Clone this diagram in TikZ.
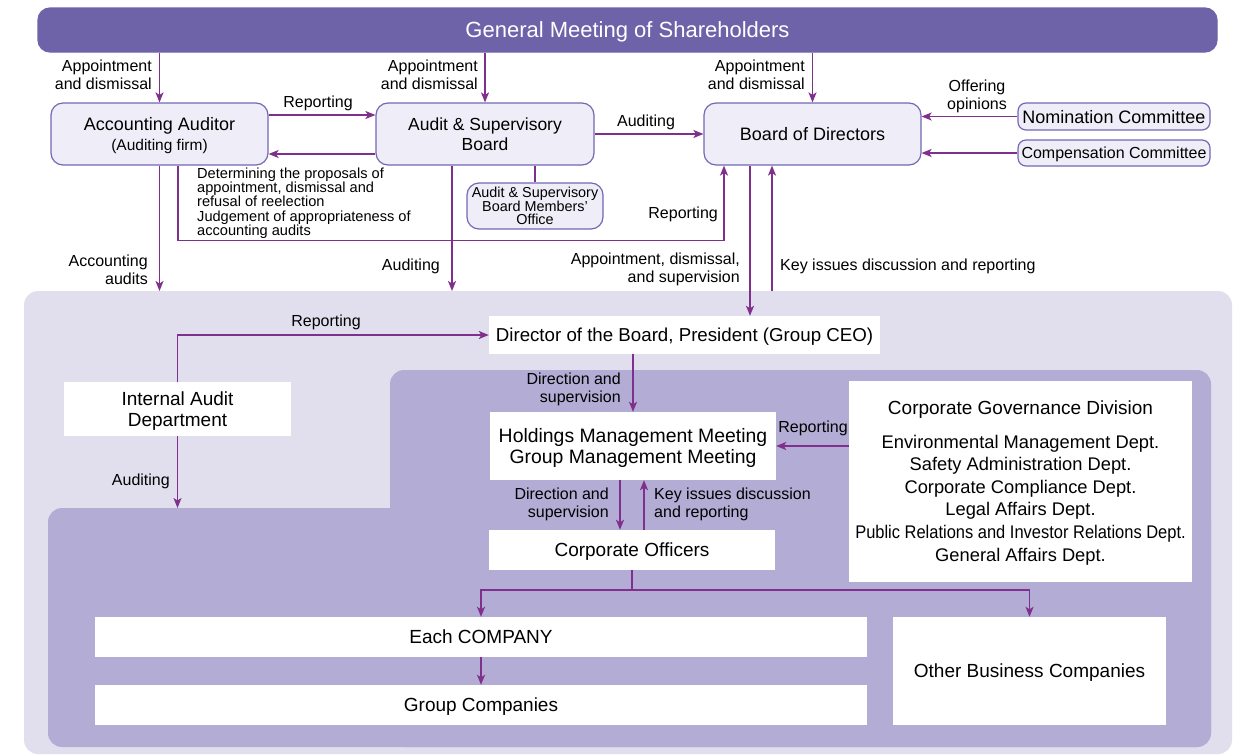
\documentclass[tikz,border=0pt]{standalone}
\usepackage{fontspec}
\setmainfont{Liberation Sans}
\usetikzlibrary{arrows.meta}
\definecolor{meeting}{HTML}{6E62A8}
\definecolor{outer}{HTML}{E1DFEE}
\definecolor{inner}{HTML}{B3ACD4}
\definecolor{orgfill}{HTML}{EFEEF8}
\definecolor{orgline}{HTML}{7467B4}
\definecolor{link}{HTML}{7F2F8C}
\tikzstyle{org}=[rectangle, rounded corners=12pt, draw=orgline, line width=1.2pt, fill=orgfill, align=center, inner sep=0pt, text depth=0pt, font=\fontsize{18}{20}\selectfont]
\tikzstyle{com}=[org, rounded corners=8pt, minimum width=192pt]
\tikzstyle{unit}=[rectangle, fill=white, inner sep=0pt, align=center, text depth=0pt, font=\fontsize{19}{21}\selectfont]
\tikzstyle{lbl}=[inner sep=0pt, font=\fontsize{16}{18}\selectfont]
\tikzstyle{edge}=[draw=link, line width=1.5pt, -{Stealth[length=10pt,width=8pt,inset=2.5pt]}]
\tikzstyle{wedge}=[draw=link, line width=1.5pt]
\begin{document}
\begin{tikzpicture}[x=1pt, y=-1pt]
				\useasboundingbox (0,0) rectangle (1236,755);
				
				%The shaded areas
				\fill[outer, rounded corners=14pt] (24,291) rectangle (1232,754);
				\fill[inner, rounded corners=14pt] (390,370) rectangle (1211,747);
				\fill[inner, rounded corners=14pt] (48,508) rectangle (1211,747);
				\coordinate (rim) at (0,291);
				\coordinate (floor) at (0,508);
				
				%The shareholders
				\draw (627.5,30) node[org, draw=meeting, fill=meeting, text=white, minimum width=1179pt, minimum height=44pt, font=\fontsize{22}{24}\selectfont] (gms) {General Meeting of Shareholders};
				
				%The top organs
				\draw (159.5,134) node[org, minimum width=217pt, minimum height=62pt] (aa) {Accounting Auditor\\{\fontsize{15.5}{18}\selectfont (Auditing firm)}};
				\draw (485,134) node[org, minimum width=218pt, minimum height=62pt, font=\fontsize{17.5}{20}\selectfont] (asb) {Audit \& Supervisory\\Board};
				\draw (812.5,134) node[org, minimum width=217pt, minimum height=62pt] (bod) {Board of Directors};
				\draw (1114,116.5) node[com, minimum height=27pt] (nom) {Nomination Committee};
				\draw (1114,153) node[com, minimum height=26pt, font=\fontsize{16}{19}\selectfont] (comp) {Compensation Committee};
				\draw (535,206) node[org, minimum width=136pt, minimum height=46pt, font=\fontsize{14.4}{13.6}\selectfont] (office) {Audit \& Supervisory\\Board Members'\\Office};
				
				\draw[edge] (aa.north |- gms.south) -- (aa.north);
				\draw[edge] (asb.north |- gms.south) -- (asb.north);
				\draw[edge] (bod.north |- gms.south) -- (bod.north);
				\draw[edge] ([yshift=19pt]aa.east) -- ([yshift=19pt]asb.west);
				\draw[edge] ([yshift=-20pt]asb.west) -- ([yshift=-20pt]aa.east);
				\draw[edge] (asb.east) -- (bod.west);
				\draw[edge] (nom.west) -- (nom.west -| bod.east);
				\draw[edge] (comp.west) -- (comp.west -| bod.east);
				\draw[wedge] (office.north |- asb.south) -- (office.north);
				\draw[edge] ([xshift=18.5pt]aa.south) -- ++(0,75) -| ([xshift=-88.5pt]bod.south);
				\draw[edge] (aa.south) -- (aa.south |- rim);
				\draw[edge] ([xshift=-33pt]asb.south) -- ([xshift=-33pt]asb.south |- rim);
				
				\draw (152,75) node[lbl, anchor=east, align=right] {Appointment\\and dismissal};
				\draw (478,75) node[lbl, anchor=east, align=right] {Appointment\\and dismissal};
				\draw (805,75) node[lbl, anchor=east, align=right] {Appointment\\and dismissal};
				\draw (318,103) node[lbl] {Reporting};
				\draw (646,122) node[lbl] {Auditing};
				\draw (977,96) node[lbl, align=center] {Offering\\opinions};
				\draw (197,203) node[lbl, anchor=west, align=left, font=\fontsize{14.6}{14.3}\selectfont] {Determining the proposals of\\appointment, dismissal and\\refusal of reelection\\Judgement of appropriateness of\\accounting audits};
				\draw (718,214) node[lbl, anchor=east] {Reporting};
				\draw (148,270) node[lbl, anchor=east, align=right] {Accounting\\audits};
				\draw (440,266) node[lbl, anchor=east] {Auditing};
				
				%The executive side
				\draw (684.5,335) node[unit, minimum width=391pt, minimum height=38pt, font=\fontsize{18.7}{21}\selectfont] (ceo) {Director of the Board, President (Group CEO)};
				\draw (177.5,409) node[unit, minimum width=227pt, minimum height=54pt] (iad) {Internal Audit\\Department};
				\draw (633,446) node[unit, minimum width=286pt, minimum height=68pt, font=\fontsize{19.4}{21}\selectfont] (hmm) {Holdings Management Meeting\\Group Management Meeting};
				\draw (632,550) node[unit, minimum width=286pt, minimum height=40pt] (co) {Corporate Officers};
				\draw (1020.5,481) node[unit, minimum width=343pt, minimum height=201pt, font=\fontsize{18.3}{22.6}\selectfont] (cgd) {{\fontsize{19}{22}\selectfont Corporate Governance Division}\\[11pt]Environmental Management Dept.\\Safety Administration Dept.\\Corporate Compliance Dept.\\Legal Affairs Dept.\\\scalebox{0.9}[1]{Public Relations and Investor Relations Dept.}\\General Affairs Dept.};
				\draw (481,637) node[unit, minimum width=772pt, minimum height=40pt] (each) {Each COMPANY};
				\draw (481,705) node[unit, minimum width=772pt, minimum height=40pt] (grp) {Group Companies};
				\draw (1029.5,671) node[unit, minimum width=273pt, minimum height=108pt] (obc) {Other Business Companies};
				
				\draw[edge] ([xshift=-62.5pt]bod.south) -- ([xshift=-62.5pt]bod.south |- ceo.north);
				\draw[edge] ([xshift=-40.5pt]bod.south |- rim) -- ([xshift=-40.5pt]bod.south);
				\draw[edge] (iad.north) |- (ceo.west);
				\draw[edge] (iad.south) -- (iad.south |- floor);
				\draw[edge] (hmm.north |- ceo.south) -- (hmm.north);
				\draw[edge] (cgd.west |- hmm.east) -- (hmm.east);
				\draw[edge] ([xshift=-13pt]hmm.south) -- ([xshift=-13pt]hmm.south |- co.north);
				\draw[edge] ([xshift=11pt]hmm.south |- co.north) -- ([xshift=11pt]hmm.south);
				\draw[wedge] (co.south) -- ++(0,20) coordinate (split);
				\draw[edge] (split) -| (each.north);
				\draw[edge] (split) -| (obc.north);
				\draw[edge] (each.south) -- (grp.north);
				
				\draw (740,269) node[lbl, anchor=east, align=right] {Appointment, dismissal,\\and supervision};
				\draw (780,266) node[lbl, anchor=west] {Key issues discussion and reporting};
				\draw (326,322) node[lbl] {Reporting};
				\draw (170,481) node[lbl, anchor=east] {Auditing};
				\draw (621,389) node[lbl, anchor=east, align=right] {Direction and\\supervision};
				\draw (813,428) node[lbl] {Reporting};
				\draw (609,504) node[lbl, anchor=east, align=right] {Direction and\\supervision};
				\draw (654,504) node[lbl, anchor=west, align=left] {Key issues discussion\\and reporting};
			\end{tikzpicture}
\end{document}
